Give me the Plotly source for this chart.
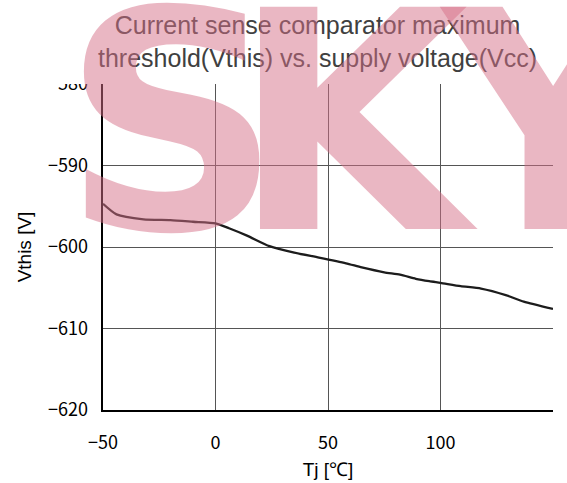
"""Vthis vs Tj characteristic curve with SKY watermark"""

import plotly.graph_objects as go

# Data
# --------------------
tj = [-50, -44, -32, -20, -10, 0, 6, 14, 24, 35, 46, 58, 65, 75, 82, 89, 95, 100,
      109, 118, 129, 137, 150]
vthis = [-594.7, -596.0, -596.6, -596.7, -596.9, -597.1, -597.7, -598.6, -599.9,
         -600.7, -601.3, -602.0, -602.5, -603.1, -603.4, -603.9, -604.2, -604.4,
         -604.8, -605.1, -605.9, -606.7, -607.6]

x_ticks = [-50, 0, 50, 100, 150]
y_grid = [-610, -600, -590]
y_labels = [-620, -610, -600, -590, -580]

title_text = "Current sense comparator maximum<br>threshold(Vthis) vs. supply voltage(Vcc)"
tick_font = dict(family="Noto Sans CJK JP", size=18, color="#000000")
label_font = dict(family="Liberation Sans, Arial", size=19, color="#000000")

# watermark letters and their centres (paper x)
wm_letters = ["S", "K", "Y"]
wm_x = [(172 - 103) / 450, (356 - 103) / 450, (552 - 103) / 450]
wm_color = "rgba(214,112,135,0.5)"

fig = go.Figure()
fig.add_trace(go.Scatter(
    x=tj, y=vthis, mode="lines",
    line=dict(color="#1c1c1c", width=2.3, shape="spline", smoothing=0.6),
    showlegend=False, hoverinfo="skip",
))
# empty trace so the label axis gets drawn
fig.add_trace(go.Scatter(x=[], y=[], yaxis="y2", showlegend=False))

# title as the first annotation so the watermark is laid over it
annotations = [
    dict(text=title_text, xref="paper", yref="paper", x=(317 - 103) / 450,
         y=(411 - 41) / 327, xanchor="center", yanchor="middle", showarrow=False,
         font=dict(family="Liberation Sans, Arial", size=25, color="#404040")),
]
annotations += [
    dict(text=f"<b>{ch}</b>", xref="paper", yref="paper", x=xc, y=0.328,
         xanchor="center", yanchor="bottom", showarrow=False,
         font=dict(family="DejaVu Sans", size=305, color=wm_color))
    for ch, xc in zip(wm_letters, wm_x)
]

fig.update_layout(
    width=567, height=483,
    margin=dict(l=103, r=14, t=84, b=73),
    paper_bgcolor="white", plot_bgcolor="white",
    xaxis=dict(range=[-50, 150], tickvals=x_ticks, showgrid=True, gridcolor="#555555",
               gridwidth=1, showline=True, linecolor="#000000", linewidth=2,
               zeroline=False, ticks="", tickfont=tick_font, ticklabelstandoff=15,
               automargin=False,
               title=dict(text="Tj [℃]", font=label_font, standoff=10)),
    yaxis=dict(range=[-620, -580], tickvals=y_grid, showticklabels=False,
               showgrid=True, gridcolor="#555555", gridwidth=1, showline=True,
               linecolor="#000000", linewidth=1.5, zeroline=False, ticks="",
               automargin=False,
               title=dict(text="Vthis [V]", font=label_font, standoff=65)),
    yaxis2=dict(range=[-620, -580], overlaying="y", side="left", tickvals=y_labels,
                showgrid=False, zeroline=False, showline=False, ticks="",
                automargin=False, tickfont=tick_font, ticklabelstandoff=14),
    shapes=[
        # hides the upper half of the -580 label, as in the source image
        dict(type="rect", xref="paper", yref="paper", x0=-0.3, x1=-0.005, y0=1.0, y1=1.3,
             fillcolor="white", line=dict(width=0), layer="above"),
    ],
    annotations=annotations,
)

# no body margin, so the figure sits at the window's top-left corner
fig.write_html("out.html", config={"displayModeBar": False},
               post_script="document.body.style.margin='0px';")
